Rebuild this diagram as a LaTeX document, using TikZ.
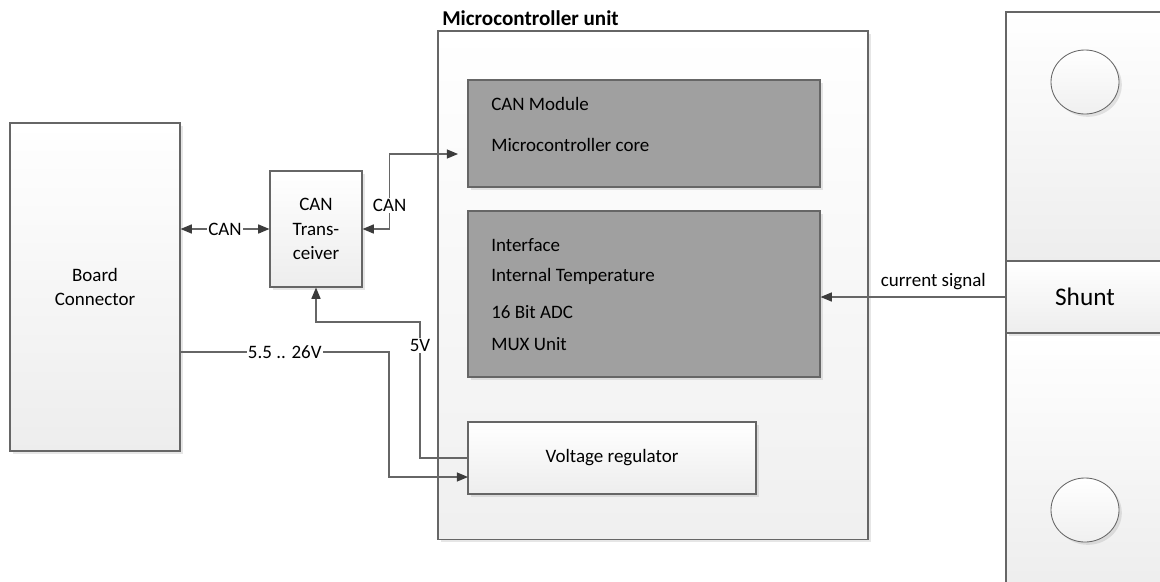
\documentclass[tikz,border=0pt]{standalone}
\usepackage{fontspec}
\setmainfont{Carlito}
\usetikzlibrary{arrows.meta, positioning, shadows, shapes.geometric}
\definecolor{edge}{HTML}{666666}
\definecolor{tipgray}{HTML}{3C3C3C}
\definecolor{coregray}{HTML}{A0A0A0}
\tikzset{
  block/.style = {
    draw = edge,
    line width = 0.8pt,
    top color = white,
    bottom color = black!7,
    drop shadow = {opacity = 0.2, shadow xshift = 2pt, shadow yshift = -2pt},
    align = center,
    inner sep = 0pt,
    font = \fontsize{13.5}{17}\selectfont
  },
  coreblock/.style = {
    draw = edge,
    line width = 0.8pt,
    fill = coregray,
    drop shadow = {opacity = 0.2, shadow xshift = 2pt, shadow yshift = -2pt},
    inner sep = 0pt
  },
  hole/.style = {
    ellipse, draw = edge, line width = 0.6pt,
    top color = white, bottom color = black!6,
    drop shadow = {opacity = 0.2, shadow xshift = 2pt, shadow yshift = -2pt},
    minimum width = 1.7cm, minimum height = 1.6cm
  },
  entry/.style = {anchor = west, inner sep = 0pt, font = \fontsize{13.5}{17}\selectfont},
  link/.style  = {draw = edge, line width = 0.8pt, >={Triangle[length=8pt, width=6.5pt, color=tipgray]}},
  lbl/.style   = {fill = white, inner sep = 1pt, font = \fontsize{13.5}{17}\selectfont}
}

\begin{document}
\begin{tikzpicture}[x=0.025cm, y=-0.025cm]
\useasboundingbox (0,0) rectangle (1160,581);

% Board connector and transceiver
\node[block, minimum width=4.25cm, minimum height=8.2cm] (board) at (95,287) {Board\\Connector};
\node[block, minimum width=2.3cm, minimum height=2.9cm, font=\fontsize{13.5}{17.5}\selectfont] (trx) at (316,229) {CAN\\Trans-\\ceiver};

% Microcontroller unit
\node[block, bottom color=black!6, minimum width=10.75cm, minimum height=12.7cm] (mcu) at (653,285) {};
\node[anchor=west, inner sep=0pt, font=\fontsize{15}{18}\selectfont\bfseries] (mcutitle) at (442,18) {Microcontroller unit};

% Core block
\node[coreblock, minimum width=8.8cm, minimum height=2.675cm] (core) at (644,133.5) {};
\node[entry] (canmod) at (491,104) {CAN Module};
\node[entry] (mcucore) at (491,145) {Microcontroller core};

% ADC block
\node[coreblock, minimum width=8.8cm, minimum height=4.15cm] (adc) at (644,294) {};
\node[entry] (iface) at (491,245) {Interface};
\node[entry] (itemp) at (491,276) {Internal Temperature};
\node[entry] (adcbits) at (491,312) {16 Bit ADC};
\node[entry] (muxunit) at (491,344) {MUX Unit};

% Voltage regulator
\node[block, minimum width=7.2cm, minimum height=1.8cm] (vreg) at (612,458) {Voltage regulator};

% Shunt
\node[block, minimum width=3.95cm, minimum height=6.225cm] (shunttop) at (1085,136.5) {};
\node[block, minimum width=3.95cm, minimum height=6.425cm] (shuntbot) at (1085,461.5) {};
\node[block, minimum width=3.95cm, minimum height=1.8cm, font=\fontsize{18}{20}\selectfont] (shunt) at (1085,297) {Shunt};
\node[hole] (holetop) at (1085,82) {};
\node[hole] (holebot) at (1085,510) {};

% Connections
\coordinate (canin) at (458,154);
\coordinate (bend5v) at (420,322);
\coordinate (vbend) at (389,352);
\coordinate (vregin) at (468,477);

\draw[link, <->] (board.east |- trx.west) -- node[lbl] {CAN} (trx.west);
\draw[link, <->] (trx.east) -- ++(27,0) -- node[lbl, pos=0.31] {CAN} ++(0,-75) -- (canin);
\draw[link, ->] (vreg.west) -- (vreg.west -| bend5v) -- node[lbl, pos=0.83] {5V} (bend5v) -| (trx.south);
\draw[link, ->] (board.east |- vbend) -- node[lbl] {5.5 .. 26V} (vbend) |- (vregin);
\draw[link, ->] (shunt.west) -- node[above, pos=0.39, inner sep=5pt, font=\fontsize{13.5}{17}\selectfont] {current signal} (shunt.west -| adc.east);

\end{tikzpicture}
\end{document}
